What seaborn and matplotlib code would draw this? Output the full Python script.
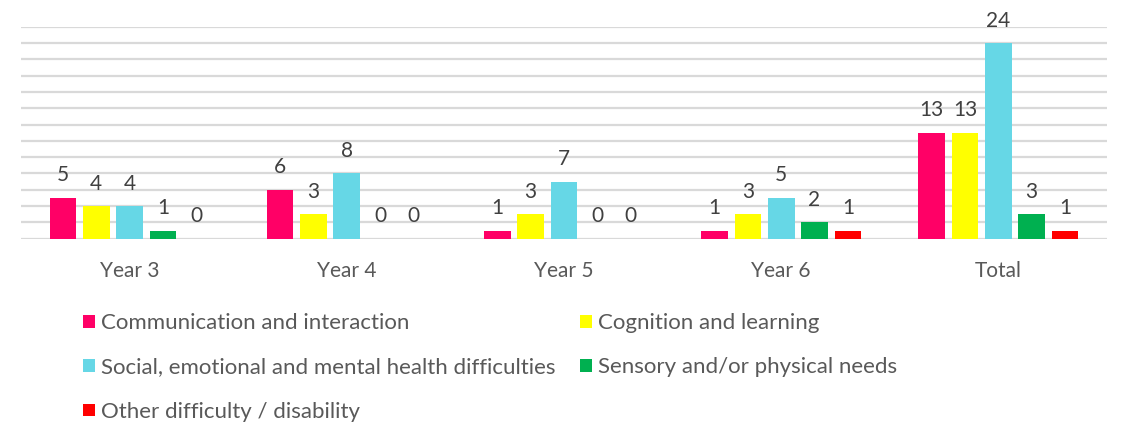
import matplotlib
matplotlib.use("Agg")
import matplotlib.pyplot as plt
import seaborn as sns
import pandas as pd

years = ["Year 3", "Year 4", "Year 5", "Year 6", "Total"]
needs = [
    "Communication and interaction",
    "Cognition and learning",
    "Social, emotional and mental health difficulties",
    "Sensory and/or physical needs",
    "Other difficulty / disability",
]
communication = [5, 6, 1, 1, 13]
cognition = [4, 3, 3, 3, 13]
semh = [4, 8, 7, 5, 24]
sensory = [1, 0, 0, 2, 3]
other = [0, 0, 0, 1, 1]
series = [communication, cognition, semh, sensory, other]
colors = ["#FF0066", "#FFFF00", "#66D7E6", "#00B050", "#FF0000"]
title = "SEN Pupils: area of need by need group"

rows = []
for need, vals in zip(needs, series):
    for yr, v in zip(years, vals):
        rows.append({"year": yr, "need": need, "value": v})
df = pd.DataFrame(rows)

sns.set_theme(style="white")
plt.rcParams["font.family"] = ["Lato", "DejaVu Sans"]
text_col = "#595959"
fs = 15

fig = plt.figure(figsize=(11.31, 4.30), dpi=100)
ax = fig.add_axes([21 / 1131, 1 - 238.7 / 430, (1107 - 21) / 1131, (238.7 - 26.7) / 430])

sns.barplot(data=df, x="year", y="value", hue="need", hue_order=needs,
            order=years, palette=colors, width=0.767, gap=0.2,
            errorbar=None, ax=ax, saturation=1, linewidth=0)

ax.set_ylim(0, 26)
ax.set_yticks(range(0, 27, 2))
ax.yaxis.grid(True, color="#D9D9D9", linewidth=1.6)
ax.set_axisbelow(True)
for s in ax.spines.values():
    s.set_visible(False)
ax.tick_params(axis="y", left=False, labelleft=False)
ax.tick_params(axis="x", bottom=False, pad=10, labelsize=fs, labelcolor=text_col)
ax.set_xlabel("")
ax.set_ylabel("")
ax.set_xlim(-0.5, 4.5)

for cont in ax.containers:
    ax.bar_label(cont, fmt="%d", padding=9, fontsize=fs, color="#404040")

handles, labels = ax.get_legend_handles_labels()
if ax.get_legend():
    ax.get_legend().remove()
order = [0, 2, 4, 1, 3]
fig.legend([handles[i] for i in order], [labels[i] for i in order],
           loc="upper left", bbox_to_anchor=(83 / 1131, 1 - 313 / 430),
           ncol=2, frameon=False, fontsize=16, labelcolor=text_col,
           handlelength=0.52, handleheight=0.52, handletextpad=0.3,
           labelspacing=1.1, columnspacing=1.1, borderpad=0, borderaxespad=0)

fig.text(465 / 1131, 1 + 5 / 430, title, ha="left", va="baseline",
         fontsize=17.5, color=text_col)

fig.savefig("out.png", dpi=100)
